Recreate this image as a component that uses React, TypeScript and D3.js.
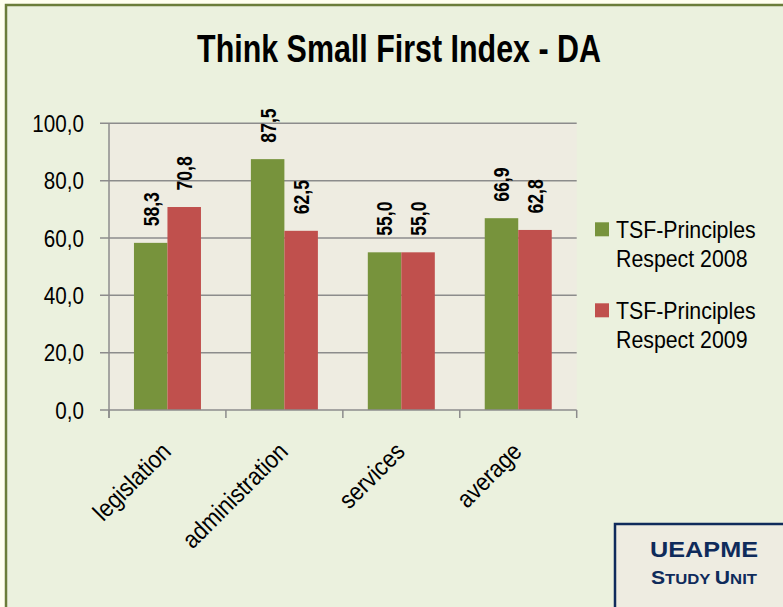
import React, { useEffect, useRef } from 'react';
import * as d3 from 'd3';

const categories = ['legislation', 'administration', 'services', 'average'];
const seriesNames = ['TSF-Principles Respect 2008', 'TSF-Principles Respect 2009'];
const values2008 = [58.3, 87.5, 55.0, 66.9];
const values2009 = [70.8, 62.5, 55.0, 62.8];
const yTicks = [0, 20, 40, 60, 80, 100];

const colors = ['#77933C', '#C0504D'];
const FONT = '"Liberation Sans", Arial, sans-serif';

const fmt = (v: number) => v.toFixed(1).replace('.', ',');

// no narrow font installed: squeeze a regular sans horizontally instead
function narrowText(parent: any, x: number, y: number, rot: number, sx: number) {
  return parent.append('text')
    .attr('transform', `translate(${x},${y}) rotate(${rot}) scale(${sx},1)`)
    .style('font-family', FONT)
    .attr('fill', '#000');
}

export default function App() {
  const svgRef = useRef<SVGSVGElement>(null);
  const width = 783;
  const height = 607;

  useEffect(() => {
    if (!svgRef.current) return;
    const svg = d3.select(svgRef.current);
    svg.selectAll('*').remove();

    const left = 109, right = 576.7, top = 123.3, bottom = 410;

    // background + frame
    svg.append('rect').attr('width', width).attr('height', height).attr('fill', '#FFFFF0');
    svg.append('rect')
      .attr('x', 6).attr('y', 5).attr('width', 900).attr('height', 800)
      .attr('fill', '#EBF1DE').attr('stroke', '#6B7D3A').attr('stroke-width', 2.5);

    // title
    narrowText(svg, 399, 61.5, 0, 0.77)
      .attr('text-anchor', 'middle')
      .style('font-weight', 'bold').style('font-size', '39.5px')
      .text('Think Small First Index - DA');

    const x0 = d3.scaleBand<string>().domain(categories).range([left, right]).padding(0);
    const x1 = d3.scaleBand<number>().domain([0, 1]).range([0, x0.bandwidth()])
      .paddingInner(0).paddingOuter(0.745);
    const y = d3.scaleLinear().domain([0, 100]).range([bottom, top]);

    const g = svg.append('g');

    // plot area
    g.append('rect')
      .attr('x', left).attr('y', top).attr('width', right - left).attr('height', bottom - top)
      .attr('fill', '#EEECE1');

    // grid lines
    g.selectAll('.grid').data(yTicks.filter(t => t > 0)).enter().append('line')
      .attr('x1', left - 9).attr('x2', right)
      .attr('y1', d => y(d)).attr('y2', d => y(d))
      .attr('stroke', '#8C8C8C').attr('stroke-width', 1.5);

    // y labels
    yTicks.forEach(t => {
      narrowText(g, 84, y(t), 0, 0.86)
        .attr('dy', '0.36em').attr('text-anchor', 'end')
        .style('font-size', '24px')
        .text(fmt(t));
    });

    // bars + value labels
    const series = [values2008, values2009];
    series.forEach((vals, si) => {
      g.selectAll(`.bar${si}`).data(vals).enter().append('rect')
        .attr('x', (d, i) => (x0(categories[i]) as number) + (x1(si) as number))
        .attr('y', d => y(d))
        .attr('width', x1.bandwidth())
        .attr('height', d => bottom - y(d))
        .attr('fill', colors[si]);

      vals.forEach((v, i) => {
        const cx = (x0(categories[i]) as number) + (x1(si) as number) + x1.bandwidth() / 2;
        narrowText(g, cx, y(v) - 16.5, -90, 0.8)
          .attr('dy', '0.36em').attr('text-anchor', 'start')
          .style('font-weight', 'bold').style('font-size', '22px')
          .text(fmt(v));
      });
    });

    // axes lines
    g.append('line').attr('x1', left).attr('x2', left).attr('y1', top).attr('y2', bottom + 8)
      .attr('stroke', '#8C8C8C').attr('stroke-width', 1.5);
    g.append('line').attr('x1', left - 9).attr('x2', right).attr('y1', bottom).attr('y2', bottom)
      .attr('stroke', '#8C8C8C').attr('stroke-width', 1.5);
    const tickXs = categories.map(c => x0(c) as number).concat([right]);
    g.selectAll('.xtick').data(tickXs).enter().append('line')
      .attr('x1', d => d).attr('x2', d => d).attr('y1', bottom).attr('y2', bottom + 8)
      .attr('stroke', '#8C8C8C').attr('stroke-width', 1.5);

    // category labels
    categories.forEach(c => {
      narrowText(g, (x0(c) as number) + x0.bandwidth() / 2 + 5, 453, -45, 0.88)
        .attr('text-anchor', 'end')
        .style('font-size', '25px')
        .text(c);
    });

    // legend
    const legendY = [222.3, 303.3];
    seriesNames.forEach((name, i) => {
      const words = name.split(' ');
      const lg = svg.append('g');
      lg.append('rect').attr('x', 595).attr('y', legendY[i]).attr('width', 14).attr('height', 14)
        .attr('fill', colors[i]);
      narrowText(lg, 616, legendY[i] + 15.4, 0, 0.87).style('font-size', '24.5px').text(words[0]);
      narrowText(lg, 616, legendY[i] + 44.4, 0, 0.87).style('font-size', '24.5px')
        .text(words.slice(1).join(' '));
    });

    // UEAPME box
    const navy = '#0F2B5B';
    svg.append('rect').attr('x', 615).attr('y', 524).attr('width', 250).attr('height', 150)
      .attr('fill', '#EEECE1').attr('stroke', navy).attr('stroke-width', 2.5);
    svg.append('text').attr('x', 704).attr('y', 557).attr('text-anchor', 'middle')
      .style('font-family', FONT).style('font-weight', 'bold').style('font-size', '22px')
      .attr('fill', navy).attr('textLength', 108).attr('lengthAdjust', 'spacingAndGlyphs')
      .text('UEAPME');
    const su = svg.append('text').attr('x', 704).attr('y', 584).attr('text-anchor', 'middle')
      .style('font-family', FONT).style('font-weight', 'bold').attr('fill', navy)
      .attr('textLength', 106).attr('lengthAdjust', 'spacingAndGlyphs');
    su.append('tspan').style('font-size', '19px').text('S');
    su.append('tspan').style('font-size', '15px').text('TUDY ');
    su.append('tspan').style('font-size', '19px').text('U');
    su.append('tspan').style('font-size', '15px').text('NIT');
  }, []);

  return (
    <div style={{ position: 'fixed', left: 0, top: 0, width, height, overflow: 'hidden' }}>
      <svg ref={svgRef} width={width} height={height} viewBox={`0 0 ${width} ${height}`} />
    </div>
  );
}
